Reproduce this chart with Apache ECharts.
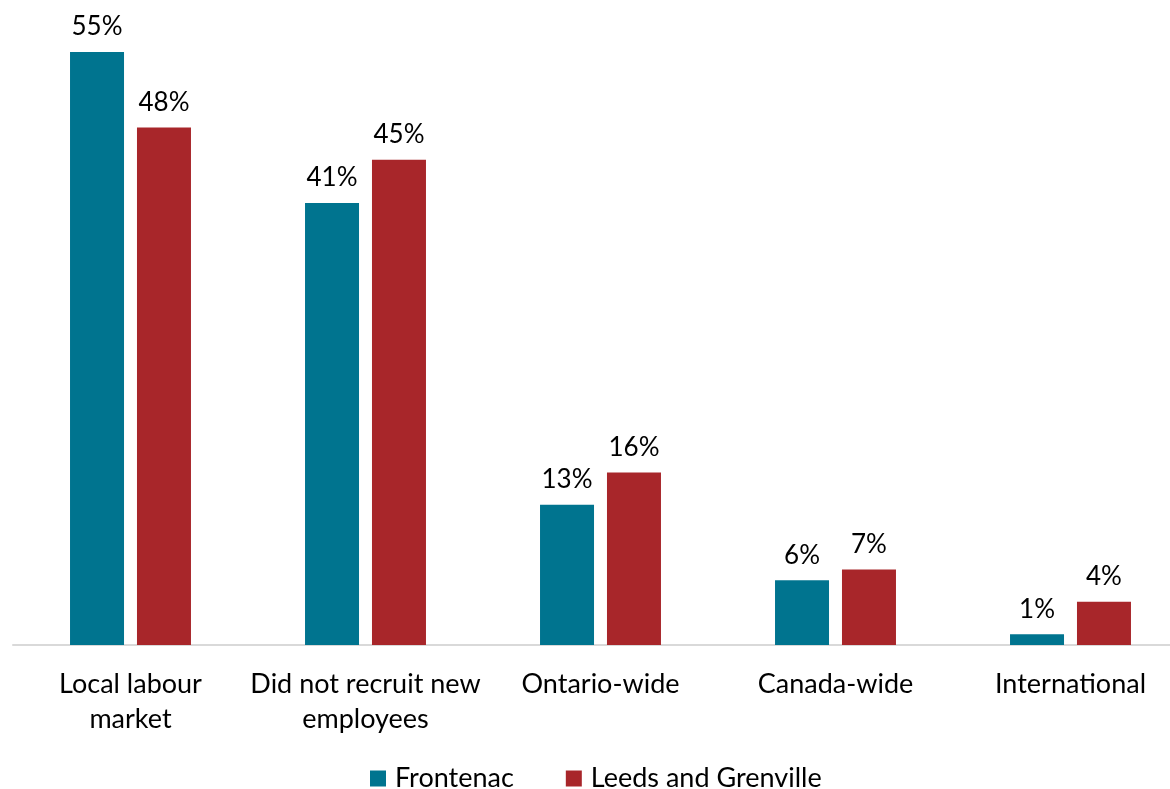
<!DOCTYPE html>
<html>
<head>
<meta charset="utf-8">
<script src="https://cdn.jsdelivr.net/npm/echarts@6/dist/echarts.min.js"></script>
<style>
  html, body { margin: 0; padding: 0; background: #fff; overflow: hidden; }
  #wrap { width: 1170px; height: 789px; overflow: hidden; }
  #chart { width: 1188px; height: 789px; }
</style>
</head>
<body>
<div id="wrap"><div id="chart"></div></div>
<script>
// Recruitment sources for new employees, by region (percent of businesses)
const categories = [
  'Local labour\nmarket',
  'Did not recruit new\nemployees',
  'Ontario-wide',
  'Canada-wide',
  'International'
];
const seriesNames = ['Frontenac', 'Leeds and Grenville'];
const frontenac = [55, 41, 13, 6, 1];
const leedsGrenville = [48, 45, 16, 7, 4];

const colors = ['#00748F', '#A8262A'];
const fontFamily = 'Lato, "Open Sans", sans-serif';

const chart = echarts.init(document.getElementById('chart'));

const barLabel = {
  show: true,
  position: 'top',
  distance: 12,
  formatter: '{c}%',
  color: '#000',
  fontSize: 26,
  fontFamily: fontFamily
};

chart.setOption({
  animation: false,
  color: colors,
  grid: { left: 13, right: 0, top: 52, height: 593, containLabel: false },
  legend: {
    top: 760,
    left: 365,
    itemWidth: 16,
    itemHeight: 16,
    itemGap: 52,
    icon: 'rect',
    textStyle: {
      fontSize: 27,
      fontFamily: fontFamily,
      color: '#000',
      padding: [0, 0, 0, 4]
    },
    data: seriesNames
  },
  xAxis: {
    type: 'category',
    data: categories,
    axisLine: { lineStyle: { color: '#D9D9D9', width: 2 } },
    axisTick: { show: false },
    axisLabel: {
      color: '#000',
      fontSize: 27,
      fontFamily: fontFamily,
      lineHeight: 35,
      margin: 22,
      interval: 0
    }
  },
  yAxis: {
    type: 'value',
    min: 0,
    max: 55,
    show: false,
    splitLine: { show: false }
  },
  series: [
    {
      name: seriesNames[0],
      type: 'bar',
      data: frontenac,
      barWidth: 54,
      barGap: '24%',
      label: barLabel
    },
    {
      name: seriesNames[1],
      type: 'bar',
      data: leedsGrenville,
      barWidth: 54,
      barGap: '24%',
      label: barLabel
    }
  ]
});
</script>
</body>
</html>
